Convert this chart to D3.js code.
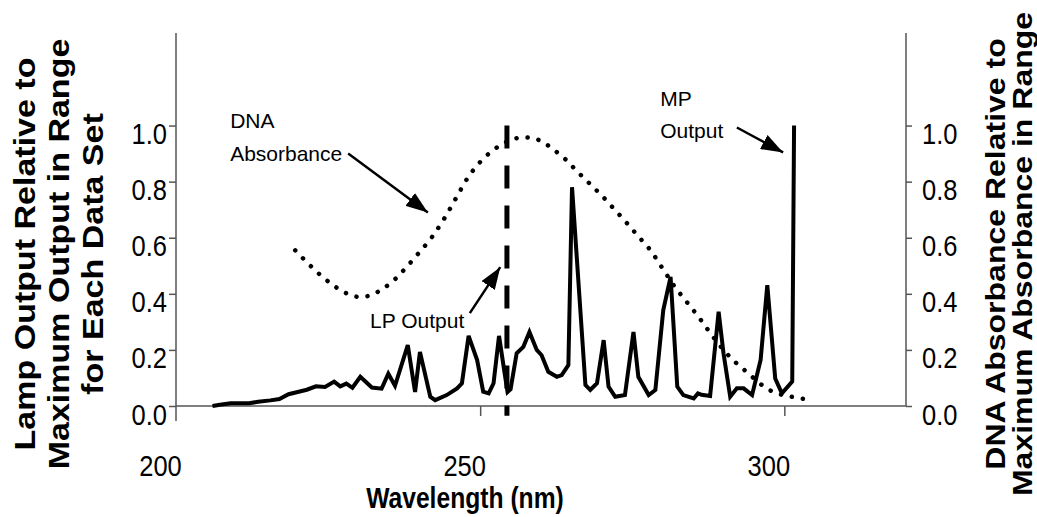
<!DOCTYPE html>
<html>
<head>
<meta charset="utf-8">
<script src="https://cdn.jsdelivr.net/npm/d3@7"></script>
<style>
  body { margin: 0; background: #fff; }
  text { font-family: "Liberation Sans", Arial, sans-serif; fill: #000; }
</style>
</head>
<body>
<script>
// lamp output (solid line)
var lampNm = [206.0, 207.5, 209.0, 212.0, 213.5, 215.5, 217.0, 218.5, 220.0, 221.5,
  223.0, 224.5, 226.0, 227.0, 228.0, 229.0, 230.3, 232.2, 233.8, 234.9,
  236.0, 238.1, 239.3, 240.1, 241.8, 242.6, 244.5, 246.2, 247.0, 248.1,
  249.5, 250.5, 251.4, 252.2, 253.1, 254.0, 254.5, 255.0, 256.0, 257.1,
  258.1, 259.3, 260.1, 261.2, 262.6, 263.4, 264.5, 265.1, 267.3, 268.1,
  269.2, 270.3, 271.1, 272.2, 273.8, 275.2, 276.0, 277.7, 278.8, 280.1,
  281.3, 282.4, 283.4, 285.1, 285.8, 286.4, 287.8, 289.2, 290.0, 291.1,
  292.2, 293.3, 294.7, 296.1, 297.2, 298.5, 299.6, 301.3, 301.6];
var lampOut = [0.0, 0.005, 0.01, 0.01, 0.015, 0.02, 0.025, 0.042, 0.05, 0.058,
  0.07, 0.068, 0.087, 0.07, 0.08, 0.065, 0.104, 0.066, 0.062, 0.115,
  0.072, 0.217, 0.05, 0.193, 0.033, 0.021, 0.039, 0.063, 0.081, 0.25,
  0.164, 0.051, 0.045, 0.081, 0.25, 0.12, 0.05, 0.06, 0.188, 0.211,
  0.264, 0.2, 0.181, 0.122, 0.104, 0.11, 0.146, 0.78, 0.075, 0.057,
  0.081, 0.235, 0.069, 0.033, 0.039, 0.264, 0.104, 0.039, 0.057, 0.342,
  0.46, 0.069, 0.039, 0.027, 0.045, 0.04, 0.036, 0.336, 0.188, 0.033,
  0.063, 0.063, 0.039, 0.164, 0.431, 0.098, 0.045, 0.087, 1.0];

// DNA absorbance (dotted line)
var dnaNm = [219.6, 222, 224, 226, 228, 230, 232, 234, 236, 238, 240, 242, 244, 246,
  248, 250, 252, 254, 256, 258, 260, 262, 264, 266, 268, 270, 272, 274, 276, 278,
  280, 282, 284, 286, 288, 290, 292, 294, 296, 298, 300, 302, 304.5];
var dnaAbs = [0.555, 0.502, 0.462, 0.428, 0.402, 0.389, 0.395, 0.418, 0.452, 0.498,
  0.548, 0.600, 0.665, 0.740, 0.815, 0.870, 0.910, 0.938, 0.955, 0.957, 0.945,
  0.915, 0.880, 0.835, 0.793, 0.750, 0.703, 0.655, 0.605, 0.555, 0.490, 0.425,
  0.370, 0.315, 0.255, 0.200, 0.155, 0.118, 0.080, 0.052, 0.038, 0.030, 0.020];

// low pressure lamp line
var lpNm = 254.4;

var xTicks = [200, 250, 300];
var yTicks = [0, 0.2, 0.4, 0.6, 0.8, 1.0];

// annotations: text and arrows, in data units
var noteText = ['DNA', 'Absorbance', 'LP Output', 'MP', 'Output'];
var noteNm = [208.9, 208.9, 231.9, 279.6, 279.6];
var noteVal = [0.993, 0.875, 0.278, 1.071, 0.957];
var arrowFrom = [[228.3, 0.90], [248.3, 0.331], [292.2, 0.993]];
var arrowTo = [[241.4, 0.69], [253.3, 0.495], [299.8, 0.904]];

var width = 1037;
var height = 517;
var sx = 0.85; // reference text is a bit narrow

var svg = d3.select('body')
            .append('svg')
            .attr('width', width)
            .attr('height', height);

var x = d3.scaleLinear().domain([200, 320]).range([176, 906]);
var y = d3.scaleLinear().domain([0, 1.33]).range([406, 33]);

svg.append('defs').append('marker')
   .attr('id', 'arrow')
   .attr('viewBox', '0 -8 22 16')
   .attr('markerWidth', 22)
   .attr('markerHeight', 16)
   .attr('markerUnits', 'userSpaceOnUse')
   .attr('refX', 22)
   .attr('refY', 0)
   .attr('orient', 'auto')
   .append('path')
   .attr('d', 'M0,-8L22,0L0,8Z')
   .attr('fill', '#000');

// axis lines
var axisColor = '#555';
svg.append('line')
   .attr('x1', x(200)).attr('x2', x(200))
   .attr('y1', y(1.33)).attr('y2', y(0) + 15)
   .attr('stroke', axisColor).attr('stroke-width', 1.5);
svg.append('line')
   .attr('x1', x(320)).attr('x2', x(320))
   .attr('y1', y(1.33)).attr('y2', y(0))
   .attr('stroke', axisColor).attr('stroke-width', 1.5);
svg.append('line')
   .attr('x1', x(200)).attr('x2', x(320))
   .attr('y1', y(0)).attr('y2', y(0))
   .attr('stroke', axisColor).attr('stroke-width', 1.5);

var leftAxis = svg.append('g')
   .attr('transform', 'translate(' + x(200) + ',0)')
   .call(d3.axisLeft(y).tickValues(yTicks).tickSize(7).tickFormat(d3.format('.1f')));
var rightAxis = svg.append('g')
   .attr('transform', 'translate(' + x(320) + ',0)')
   .call(d3.axisRight(y).tickValues(yTicks).tickSize(6).tickFormat(d3.format('.1f')));
var bottomAxis = svg.append('g')
   .attr('transform', 'translate(0,' + y(0) + ')')
   .call(d3.axisBottom(x).tickValues(xTicks).tickSize(10));

[leftAxis, rightAxis, bottomAxis].forEach(function(g) {
  g.select('.domain').remove();
  g.selectAll('.tick line').attr('stroke', axisColor).attr('stroke-width', 1.5);
  g.selectAll('.tick text')
   .attr('font-family', '"Liberation Sans", Arial, sans-serif')
   .attr('font-size', 30)
   .attr('fill', '#000')
   .attr('transform', 'scale(' + sx + ',1)');
});
bottomAxis.selectAll('.tick line').filter(function(d) { return d === 200; }).remove();

leftAxis.selectAll('.tick text').attr('x', -9 / sx).attr('dy', '0.6em');
rightAxis.selectAll('.tick text').attr('x', 16 / sx).attr('dy', '0.6em');
bottomAxis.selectAll('.tick text').attr('x', -16 / sx).attr('y', 70).attr('dy', 0);

// axis titles
function title(lines, cx, cy, size, gap) {
  lines.forEach(function(t, i) {
    svg.append('text')
       .attr('transform', 'translate(' + (cx + i * gap) + ',' + cy + ') scale(' + sx + ',1) rotate(-90)')
       .attr('text-anchor', 'middle')
       .attr('dy', '0.35em')
       .attr('font-weight', 'bold')
       .attr('font-size', size)
       .text(t);
  });
}
title(['Lamp Output Relative to', 'Maximum Output in Range', 'for Each Data Set'], 25, 254, 34, 34);
title(['DNA Absorbance Relative to', 'Maximum Absorbance in Range'], 995, 254, 32, 27);

svg.append('text')
   .attr('transform', 'translate(' + x(247.5) + ',508) scale(' + sx + ',1)')
   .attr('text-anchor', 'middle')
   .attr('font-weight', 'bold')
   .attr('font-size', 29)
   .text('Wavelength (nm)');

// DNA absorbance, dotted
var line = d3.line()
             .x(function(d) { return x(d[0]); })
             .y(function(d) { return y(d[1]); });

svg.append('path')
   .datum(d3.zip(dnaNm, dnaAbs))
   .attr('d', line.curve(d3.curveCatmullRom))
   .attr('fill', 'none')
   .attr('stroke', '#000')
   .attr('stroke-width', 4.5)
   .attr('stroke-linecap', 'round')
   .attr('stroke-dasharray', '0.1,11');

// lamp output, solid
svg.append('path')
   .datum(d3.zip(lampNm, lampOut))
   .attr('d', line.curve(d3.curveLinear))
   .attr('fill', 'none')
   .attr('stroke', '#000')
   .attr('stroke-width', 4)
   .attr('stroke-linejoin', 'miter');

// LP output, dashed
svg.append('line')
   .attr('x1', x(lpNm)).attr('x2', x(lpNm))
   .attr('y1', y(1.0)).attr('y2', y(-0.035))
   .attr('stroke', '#000')
   .attr('stroke-width', 5)
   .attr('stroke-dasharray', '23,17');

// notes
noteText.forEach(function(t, i) {
  svg.append('text')
     .attr('x', x(noteNm[i]))
     .attr('y', y(noteVal[i]))
     .attr('font-size', 21)
     .text(t);
});
arrowFrom.forEach(function(p, i) {
  svg.append('line')
     .attr('x1', x(p[0])).attr('y1', y(p[1]))
     .attr('x2', x(arrowTo[i][0])).attr('y2', y(arrowTo[i][1]))
     .attr('stroke', '#000')
     .attr('stroke-width', 2.5)
     .attr('marker-end', 'url(#arrow)');
});
</script>
</body>
</html>
